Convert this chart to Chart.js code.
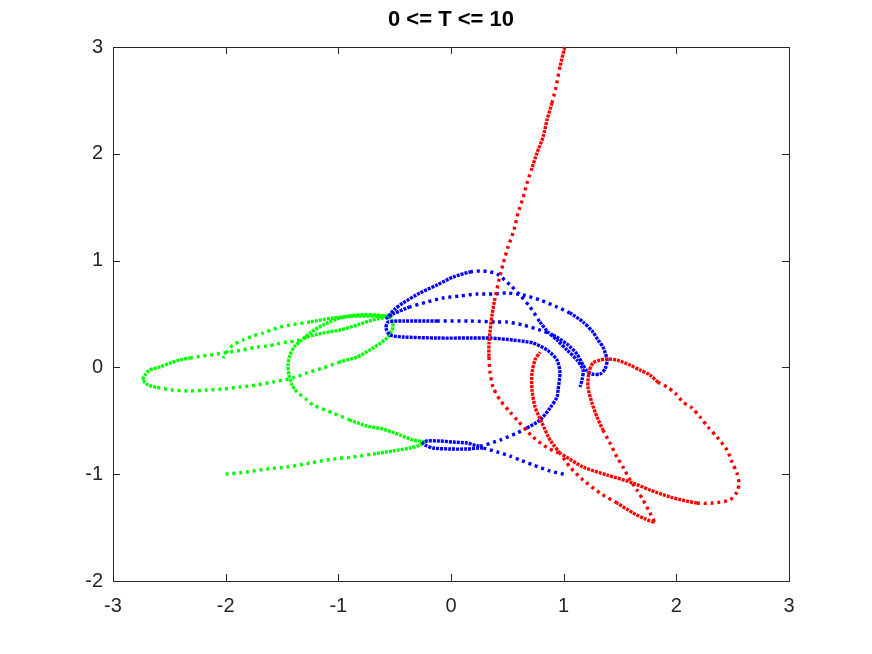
<!DOCTYPE html>
<html><head><meta charset="utf-8">
<script src="https://cdn.jsdelivr.net/npm/chart.js@4/dist/chart.umd.min.js"></script>
<style>html,body{margin:0;padding:0;background:#fff;}#wrap{width:872px;height:654px;}</style>
</head><body><div id="wrap"><canvas id="c" width="872" height="654"></canvas></div>
<script>
const titleText = '0 <= T <= 10';
const xTicks = [-3, -2, -1, 0, 1, 2, 3];
const yTicks = [-2, -1, 0, 1, 2, 3];

// body of mass 3 (red)
const redPath = [
 [1.01,3.00],[0.967,2.813],[0.932,2.625],[0.896,2.476],[0.852,2.316],[0.817,2.157],[0.763,2.007],
 [0.719,1.867],[0.675,1.727],[0.639,1.586],[0.595,1.446],[0.559,1.287],[0.506,1.127],[0.462,0.968],
 [0.426,0.818],[0.391,0.650],[0.364,0.491],[0.346,0.331],[0.337,0.228],[0.337,0.097],[0.346,-0.043],
 [0.373,-0.184],[0.435,-0.305],[0.524,-0.418],[0.586,-0.492],[0.728,-0.652],[0.861,-0.755],[0.994,-0.820],
 [1.172,-0.933],[1.385,-1.007],[1.615,-1.082],[1.766,-1.148],[1.944,-1.213],[2.183,-1.270],[2.325,-1.270],
 [2.476,-1.241],[2.538,-1.167],[2.556,-1.082],[2.538,-0.989],[2.494,-0.886],[2.450,-0.773],[2.361,-0.652],
 [2.281,-0.558],[2.210,-0.464],[2.139,-0.380],[2.059,-0.324],[1.988,-0.240],[1.917,-0.183],[1.837,-0.137],
 [1.766,-0.071],[1.677,-0.024],[1.589,0.022],[1.473,0.069],[1.385,0.079],[1.322,0.069],[1.260,0.041],
 [1.225,-0.043],[1.216,-0.184],[1.251,-0.333],[1.296,-0.464],[1.349,-0.586],[1.411,-0.708],[1.473,-0.839],
 [1.527,-0.933],[1.589,-1.054],[1.651,-1.148],[1.704,-1.241],[1.766,-1.362],[1.802,-1.446],
 [1.722,-1.418],[1.615,-1.362],[1.473,-1.270],[1.322,-1.176],[1.172,-1.054],[1.056,-0.933],[0.967,-0.802],
 [0.879,-0.680],[0.808,-0.521],[0.746,-0.371],[0.719,-0.212],[0.719,-0.052],[0.746,0.069],[0.790,0.144]
];

// body of mass 5 (blue)
const bluePath = [
 [1.00,-1.00],[0.879,-0.970],[0.728,-0.913],[0.612,-0.867],[0.524,-0.830],[0.408,-0.792],[0.284,-0.755],
 [0.142,-0.764],[-0.009,-0.764],[-0.160,-0.755],[-0.231,-0.727],[-0.249,-0.708],[-0.213,-0.689],
 [-0.098,-0.689],[0.018,-0.699],[0.142,-0.708],[0.257,-0.736],[0.435,-0.680],[0.586,-0.614],[0.675,-0.567],
 [0.790,-0.493],[0.879,-0.380],[0.941,-0.277],[0.950,-0.212],[0.967,-0.052],[0.941,0.069],[0.852,0.163],
 [0.728,0.228],[0.550,0.256],[0.346,0.275],[0.169,0.275],[-0.124,0.275],[-0.426,0.285],[-0.541,0.303],
 [-0.577,0.369],[-0.559,0.425],[-0.426,0.434],[-0.124,0.434],[0.169,0.434],[0.408,0.425],[0.497,0.425],
 [0.639,0.397],[0.790,0.350],[0.905,0.303],[1.030,0.219],[1.118,0.125],[1.172,0.022],[1.207,-0.034],
 [1.251,-0.062],[1.322,-0.062],[1.367,-0.015],[1.385,0.069],[1.349,0.191],[1.305,0.256],[1.260,0.331],
 [1.172,0.425],[1.056,0.509],[0.941,0.566],[0.790,0.631],[0.639,0.678],[0.497,0.697],[0.373,0.687],
 [0.231,0.687],[0.080,0.669],[-0.071,0.650],[-0.213,0.612],[-0.364,0.566],[-0.515,0.500],[-0.568,0.463],
 [-0.497,0.547],[-0.426,0.603],[-0.275,0.697],[-0.124,0.772],[0.018,0.846],[0.169,0.893],[0.284,0.903],
 [0.408,0.875],[0.524,0.772],[0.612,0.678],[0.701,0.566],[0.790,0.425],[0.861,0.331],[0.941,0.256],
 [1.030,0.163],[1.118,0.069],[1.172,-0.024],[1.163,-0.118],[1.145,-0.184]
];

// body of mass 4 (green)
const greenPath = [
 [-2.00,-1.00],[-1.811,-0.979],[-1.633,-0.951],[-1.456,-0.933],[-1.251,-0.895],[-1.047,-0.858],
 [-0.870,-0.839],[-0.692,-0.811],[-0.515,-0.782],[-0.364,-0.755],[-0.275,-0.727],[-0.240,-0.698],
 [-0.337,-0.680],[-0.453,-0.633],[-0.604,-0.577],[-0.746,-0.549],[-0.896,-0.493],[-1.047,-0.427],
 [-1.225,-0.352],[-1.278,-0.305],[-1.367,-0.230],[-1.411,-0.165],[-1.438,-0.071],[-1.447,0.022],
 [-1.429,0.116],[-1.385,0.200],[-1.322,0.257],[-1.251,0.322],[-1.136,0.397],[-0.985,0.463],[-0.834,0.491],
 [-0.657,0.491],[-0.541,0.463],[-0.515,0.378],[-0.568,0.275],[-0.692,0.182],[-0.834,0.097],[-0.985,0.051],
 [-1.136,-0.006],[-1.278,-0.052],[-1.402,-0.099],[-1.580,-0.137],[-1.722,-0.165],[-1.873,-0.184],
 [-2.024,-0.202],[-2.166,-0.212],[-2.317,-0.221],[-2.467,-0.212],[-2.583,-0.193],[-2.689,-0.165],
 [-2.734,-0.118],[-2.716,-0.071],[-2.672,-0.024],[-2.583,0.004],[-2.494,0.041],[-2.405,0.069],
 [-2.317,0.088],[-2.201,0.107],[-2.077,0.125],[-1.961,0.144],[-1.846,0.163],[-1.722,0.191],[-1.633,0.200],
 [-1.544,0.219],[-1.456,0.238],[-1.367,0.250],[-1.278,0.285],[-1.136,0.322],[-0.985,0.350],[-0.834,0.397],
 [-0.692,0.444],[-0.568,0.472],[-0.533,0.481],[-0.701,0.481],[-0.834,0.481],[-1.047,0.463],[-1.251,0.425],
 [-1.429,0.397],[-1.544,0.369],[-1.669,0.322],[-1.757,0.294],[-1.846,0.257],[-1.935,0.210],[-1.988,0.144],
 [-2.024,0.088]
];

// styling: index ranges of the paths where the plotted dots run close together
const denseStyle = {
  red: [[0, 1], [3, 7], [15, 19], [27, 33], [48, 60], [68, 71], [75, 82]],
  blue: [[6, 16], [19, 37], [43, 56], [66, 74], [80, 87]],
  green: [[7, 16], [20, 37], [48, 56], [66, 76]]
};

const toXY = p => p.map(([x, y]) => ({x, y}));
const inRanges = (i, rs) => rs.some(([a, b]) => i >= a && i < b);
const lineStyle = (color, ranges) => ({
  borderColor: color, backgroundColor: color, showLine: true, pointRadius: 0, pointHoverRadius: 0,
  borderWidth: 3.4, borderCapStyle: 'butt', borderJoinStyle: 'round',
  tension: 0.25, fill: false, clip: 3,
  segment: { borderDash: ctx => inRanges(ctx.p0DataIndex, ranges) ? [3, 1] : [3, 3.8] }
});

const frame = {
  id: 'frame',
  beforeDatasetsDraw(chart) {
    const {ctx, chartArea: a, scales: {x, y}} = chart;
    const L = 7;
    ctx.save();
    ctx.strokeStyle = '#262626';
    ctx.lineWidth = 1;
    ctx.beginPath();
    x.ticks.forEach(t => {
      const px = Math.round(x.getPixelForValue(t.value)) + 0.5;
      ctx.moveTo(px, a.bottom); ctx.lineTo(px, a.bottom - L);
      ctx.moveTo(px, a.top); ctx.lineTo(px, a.top + L);
    });
    y.ticks.forEach(t => {
      const py = Math.round(y.getPixelForValue(t.value)) + 0.5;
      ctx.moveTo(a.left, py); ctx.lineTo(a.left + L, py);
      ctx.moveTo(a.right, py); ctx.lineTo(a.right - L, py);
    });
    ctx.stroke();
    ctx.strokeRect(Math.round(a.left) + 0.5, Math.round(a.top) + 0.5,
      Math.round(a.right - a.left), Math.round(a.bottom - a.top));
    ctx.restore();
  }
};

const tickFont = {family: 'Liberation Sans, Arial, sans-serif', size: 20};

new Chart(document.getElementById('c'), {
  type: 'scatter',
  data: {
    datasets: [
      Object.assign({label: 'mass 3', data: toXY(redPath)}, lineStyle('#ff0000', denseStyle.red)),
      Object.assign({label: 'mass 5', data: toXY(bluePath)}, lineStyle('#0000ff', denseStyle.blue)),
      Object.assign({label: 'mass 4', data: toXY(greenPath)}, lineStyle('#00ff00', denseStyle.green))
    ]
  },
  options: {
    responsive: false, animation: false, devicePixelRatio: 1,
    layout: {padding: {left: 0, right: 83, top: 0, bottom: 0}},
    plugins: {
      legend: {display: false}, tooltip: {enabled: false},
      title: {display: true, fullSize: false, text: titleText, color: '#000',
        font: {family: 'Liberation Sans, Arial, sans-serif', size: 22, weight: 'bold', lineHeight: 1.2},
        padding: {top: 7, bottom: 13.6}}
    },
    scales: {
      x: {type: 'linear', min: -3, max: 3, afterBuildTicks: s => { s.ticks = xTicks.map(v => ({value: v})); },
        ticks: {color: '#262626', font: tickFont, padding: 13, maxRotation: 0},
        grid: {display: false, drawTicks: false}, border: {display: false},
        afterFit: s => { s.height = 73; }},
      y: {type: 'linear', min: -2, max: 3, afterBuildTicks: s => { s.ticks = yTicks.map(v => ({value: v})); },
        ticks: {color: '#262626', font: tickFont, padding: 10},
        grid: {display: false, drawTicks: false}, border: {display: false},
        afterFit: s => { s.width = 113; }}
    }
  },
  plugins: [frame]
});
</script>
</body></html>
